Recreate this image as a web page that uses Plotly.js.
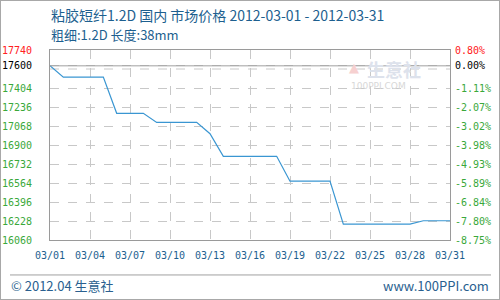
<!DOCTYPE html>
<html>
<head>
<meta charset="utf-8">
<script src="https://cdn.plot.ly/plotly-3.0.1.min.js"></script>
<style>
  html, body { margin: 0; padding: 0; background: #fff; }
  #wrap { position: relative; width: 500px; height: 300px; }
  #chart { position: absolute; left: 0; top: 0; width: 500px; height: 300px; }
  #frame { position: absolute; left: 0; top: 0; width: 500px; height: 300px; box-sizing: border-box; border: 1px solid #a8a8a8; pointer-events: none; }
</style>
</head>
<body>
<div id="wrap"><div id="chart"></div><div id="frame"></div></div>
<script>
// ---- data ----
const dates = [
  '2012-03-01','2012-03-02','2012-03-03','2012-03-04','2012-03-05','2012-03-06','2012-03-07',
  '2012-03-08','2012-03-09','2012-03-10','2012-03-11','2012-03-12','2012-03-13','2012-03-14',
  '2012-03-15','2012-03-16','2012-03-17','2012-03-18','2012-03-19','2012-03-20','2012-03-21',
  '2012-03-22','2012-03-23','2012-03-24','2012-03-25','2012-03-26','2012-03-27','2012-03-28',
  '2012-03-29','2012-03-30','2012-03-31'
];
const prices = [
  17600, 17500, 17500, 17500, 17500, 17180, 17180,
  17180, 17100, 17100, 17100, 17100, 17000, 16800,
  16800, 16800, 16800, 16800, 16580, 16580, 16580,
  16580, 16200, 16200, 16200, 16200, 16200, 16200,
  16230, 16230, 16230
];
const xTickVals = ['2012-03-01','2012-03-04','2012-03-07','2012-03-10','2012-03-13','2012-03-16',
                   '2012-03-19','2012-03-22','2012-03-25','2012-03-28','2012-03-31'];
const xTickText = ['03/01','03/04','03/07','03/10','03/13','03/16','03/19','03/22','03/25','03/28','03/31'];
const yTickVals = [16060, 16228, 16396, 16564, 16732, 16900, 17068, 17236, 17404, 17600, 17740];
const yTickText = ['16060','16228','16396','16564','16732','16900','17068','17236','17404','17600','17740'];
const pctTickText = ['-8.75%','-7.80%','-6.84%','-5.89%','-4.93%','-3.98%','-3.02%','-2.07%','-1.11%','0.00%','0.80%'];
const basePrice = 17600;
const extraGrid = 17572;
const yRange = [16060, 17740];
const titleLine1 = '粘胶短纤1.2D 国内 市场价格 2012-03-01 - 2012-03-31';
const titleLine2 = '粗细:1.2D 长度:38mm';
const footLeft = '© 2012.04 生意社';
const footRight = 'www.100PPI.com';

// ---- styling ----
const green = '#3aa83a';
function colorize(list) {
  return list.map((t, i) => {
    if (i === list.length - 1) return '<span style="color:#ff2020">' + t + '</span>';
    if (i === list.length - 2) return '<span style="color:#000000">' + t + '</span>';
    return t;
  });
}
const tickFont = { family: 'DejaVu Sans Mono, monospace', size: 10, color: green };
const blue = '#1d5f8f';

const traces = [
  { x: dates, y: prices, type: 'scatter', mode: 'lines',
    line: { color: '#3a96d2', width: 1.2 }, hoverinfo: 'skip', showlegend: false },
  { x: dates, y: prices, type: 'scatter', mode: 'lines', yaxis: 'y2',
    line: { color: 'rgba(0,0,0,0)', width: 0 }, hoverinfo: 'skip', showlegend: false }
];

const layout = {
  width: 500, height: 300,
  margin: { l: 50, r: 50, t: 50, b: 60, pad: 0 },
  paper_bgcolor: '#ffffff', plot_bgcolor: '#ffffff',
  showlegend: false,
  xaxis: {
    type: 'date', range: ['2012-03-01', '2012-03-31'],
    tickvals: xTickVals, ticktext: xTickText,
    tickfont: { family: 'DejaVu Sans Mono, monospace', size: 10, color: blue },
    showgrid: true, gridcolor: '#c8c8c8', griddash: 'dash', gridwidth: 1,
    showline: true, mirror: true, linecolor: '#9a9a9a', linewidth: 1,
    ticks: '', ticklabelstandoff: 6, zeroline: false, fixedrange: true
  },
  yaxis: {
    range: yRange, tickvals: yTickVals, ticktext: colorize(yTickText),
    tickfont: tickFont,
    showgrid: true, gridcolor: '#c8c8c8', griddash: 'dash', gridwidth: 1,
    showline: true, mirror: true, linecolor: '#9a9a9a', linewidth: 1,
    ticks: '', ticklabelstandoff: 15, zeroline: false, fixedrange: true
  },
  yaxis2: {
    overlaying: 'y', side: 'right',
    range: yRange, tickvals: yTickVals, ticktext: colorize(pctTickText),
    tickfont: tickFont, showgrid: false, showline: false, zeroline: false,
    ticks: '', ticklabelstandoff: 4, fixedrange: true
  },
  shapes: [
    { type: 'line', xref: 'paper', yref: 'y', x0: 0, x1: 1, y0: extraGrid, y1: extraGrid,
      line: { color: '#c8c8c8', width: 1, dash: 'dash' }, layer: 'below' },
    { type: 'line', xref: 'paper', yref: 'y', x0: 0, x1: 1, y0: basePrice, y1: basePrice,
      line: { color: '#a0a0a0', width: 1 } },
    { type: 'line', xref: 'paper', yref: 'paper', x0: -0.1, x1: 1.1025, y0: -0.184, y1: -0.184,
      line: { color: '#a0a0a0', width: 1 } }
  ],
  annotations: [
    { text: titleLine1, xref: 'paper', yref: 'paper', x: 0, y: 1.184, xanchor: 'left', yanchor: 'middle',
      showarrow: false, borderpad: 0, font: { family: 'Noto Sans CJK SC, sans-serif', size: 14, color: blue } },
    { text: titleLine2, xref: 'paper', yref: 'paper', x: 0, y: 1.084, xanchor: 'left', yanchor: 'middle',
      showarrow: false, borderpad: 0, font: { family: 'Noto Sans CJK SC, sans-serif', size: 13, color: blue } },
    { text: footLeft, xref: 'paper', yref: 'paper', x: -0.1, y: -0.24, xanchor: 'left', yanchor: 'middle',
      showarrow: false, borderpad: 0, font: { family: 'Noto Sans CJK SC, sans-serif', size: 13, color: '#2a5f8f' } },
    { text: footRight, xref: 'paper', yref: 'paper', x: 1.1, y: -0.24, xanchor: 'right', yanchor: 'middle',
      showarrow: false, borderpad: 0, font: { family: 'Noto Sans CJK SC, sans-serif', size: 13, color: '#2a5f8f' } },
    // faint watermark logo
    { text: '<b>生意社</b>', xref: 'paper', yref: 'paper', x: 0.86, y: 0.9, xanchor: 'center', yanchor: 'middle',
      showarrow: false, font: { family: 'Noto Sans CJK SC, sans-serif', size: 18, color: '#dde2ec' } },
    { text: '100PPI.COM', xref: 'paper', yref: 'paper', x: 0.82, y: 0.81, xanchor: 'center', yanchor: 'middle',
      showarrow: false, font: { family: 'DejaVu Sans, sans-serif', size: 9, color: '#d8d8d8' } },
    { text: '▲', xref: 'paper', yref: 'paper', x: 0.76, y: 0.91, xanchor: 'center', yanchor: 'middle',
      showarrow: false, font: { family: 'DejaVu Sans, sans-serif', size: 13, color: '#f6d0d0' } }
  ]
};

Plotly.newPlot('chart', traces, layout, { staticPlot: true, displayModeBar: false });
</script>
</body>
</html>
